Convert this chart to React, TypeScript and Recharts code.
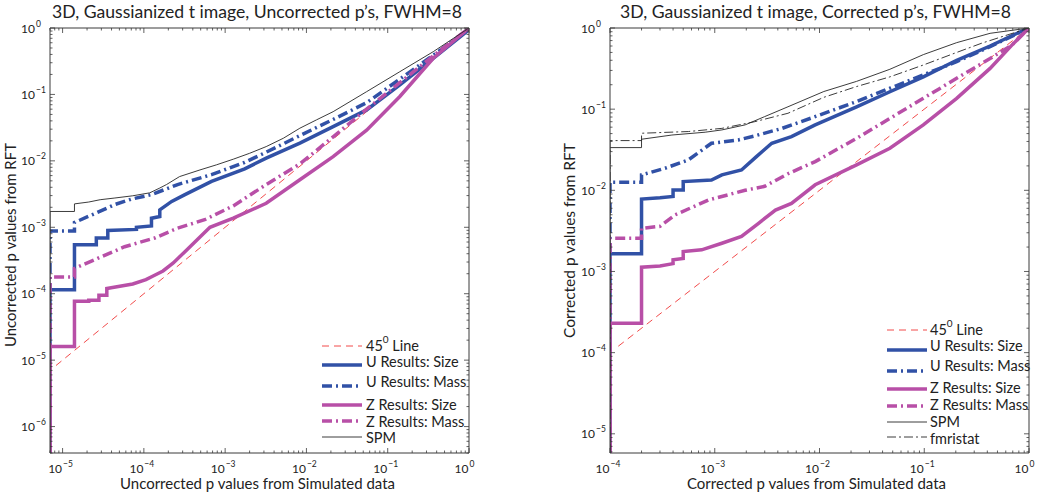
import React from 'react';
import { LineChart, Line, XAxis, YAxis, Legend } from 'recharts';

type Pt = [number, number];

// ---------- left panel: uncorrected p's ----------
const UNC_X_DOMAIN: [number, number] = [7e-6, 1];
const UNC_Y_DOMAIN: [number, number] = [4e-7, 1];

const uncDiag: Pt[] = [[8.3e-6, 8.3e-6], [1, 1]];
const uncUSize: Pt[] = [
  [7e-6, 4e-7], [7e-6, 1.15e-4], [1.4e-5, 1.15e-4], [1.4e-5, 5.45e-4], [2.6e-5, 5.45e-4], [2.6e-5, 6.9e-4],
  [3.6e-5, 6.9e-4], [3.6e-5, 8.95e-4], [8.1e-5, 9.3e-4], [8.1e-5, 1.0e-3], [1.24e-4, 1.05e-3], [1.24e-4, 1.37e-3],
  [1.57e-4, 1.45e-3], [1.57e-4, 1.83e-3], [2.2e-4, 2.45e-3], [3.2e-4, 3.1e-3], [6.8e-4, 4.9e-3], [1.74e-3, 7.6e-3],
  [3.2e-3, 0.011], [8.3e-3, 0.0185], [0.0213, 0.0328], [0.055, 0.0585], [0.141, 0.139], [0.363, 0.35], [0.93, 0.88], [1, 1],
];
const uncUMass: Pt[] = [
  [7e-6, 4e-7], [7e-6, 8.8e-4], [1.4e-5, 8.8e-4], [1.4e-5, 1.18e-3], [2.86e-5, 1.73e-3], [4.4e-5, 2.2e-3],
  [7.0e-5, 2.65e-3], [1.24e-4, 3.1e-3], [2.6e-4, 4.4e-3], [6.8e-4, 6.2e-3], [1.74e-3, 9.5e-3], [3.2e-3, 0.0135],
  [8.3e-3, 0.024], [0.0213, 0.042], [0.055, 0.075], [0.141, 0.17], [0.363, 0.39], [0.93, 0.9], [1, 1],
];
const uncZSize: Pt[] = [
  [7e-6, 4e-7], [7e-6, 1.6e-5], [1.4e-5, 1.6e-5], [1.4e-5, 7.7e-5], [2.1e-5, 7.7e-5], [2.1e-5, 8.0e-5],
  [2.8e-5, 8.0e-5], [2.8e-5, 9.5e-5], [3.5e-5, 9.5e-5], [3.5e-5, 1.2e-4], [7.3e-5, 1.4e-4], [1.06e-4, 1.63e-4],
  [1.3e-4, 1.85e-4], [1.72e-4, 2.2e-4], [2.3e-4, 2.9e-4], [3.2e-4, 4.3e-4], [6.5e-4, 1.0e-3], [1.26e-3, 1.37e-3],
  [3.2e-3, 2.3e-3], [8.3e-3, 5.2e-3], [0.0213, 0.0116], [0.055, 0.029], [0.141, 0.093], [0.363, 0.35], [1, 1],
];
const uncZMass: Pt[] = [
  [7e-6, 4e-7], [7e-6, 1.78e-4], [1.4e-5, 1.78e-4], [1.4e-5, 2.4e-4], [2.7e-5, 3.4e-4], [5.8e-5, 5.1e-4],
  [1.36e-4, 6.9e-4], [2.6e-4, 9.7e-4], [5.6e-4, 1.3e-3], [1.26e-3, 2.1e-3], [3.2e-3, 4.4e-3], [8.3e-3, 9.0e-3],
  [0.0213, 0.023], [0.055, 0.06], [0.141, 0.15], [0.363, 0.38], [1, 1],
];
const uncSPM: Pt[] = [
  [7e-6, 4e-7], [7e-6, 1.73e-3], [1.4e-5, 1.73e-3], [1.4e-5, 2.25e-3], [2.1e-5, 2.4e-3], [2.9e-5, 2.6e-3],
  [4.3e-5, 2.75e-3], [7.3e-5, 2.98e-3], [1.18e-4, 3.3e-3], [1.57e-4, 3.9e-3], [1.9e-4, 4.4e-3], [2.75e-4, 5.8e-3],
  [4.9e-4, 7.3e-3], [7.8e-4, 8.7e-3], [1.26e-3, 0.0106], [2.0e-3, 0.013], [3.2e-3, 0.0164], [5.2e-3, 0.0219],
  [8.3e-3, 0.031], [0.0133, 0.0414], [0.0213, 0.055], [0.055, 0.11], [0.141, 0.22], [0.363, 0.44], [1, 1],
];

// ---------- right panel: corrected p's ----------
const COR_X_DOMAIN: [number, number] = [1e-4, 1];
const COR_Y_DOMAIN: [number, number] = [5.8e-6, 1];

const corDiag: Pt[] = [[1.2e-4, 1.2e-4], [1, 1]];
const corUSize: Pt[] = [
  [1e-4, 5.8e-6], [1e-4, 1.65e-3], [2e-4, 1.65e-3], [2e-4, 7.8e-3], [3e-4, 8.1e-3], [4e-4, 8.4e-3], [4e-4, 0.0101],
  [5e-4, 0.0101], [5e-4, 0.0128], [9.3e-4, 0.0134], [1.17e-3, 0.0155], [1.8e-3, 0.0178], [2.5e-3, 0.026],
  [3.5e-3, 0.038], [5.4e-3, 0.0459], [9.1e-3, 0.064], [0.0226, 0.107], [0.047, 0.164], [0.098, 0.25],
  [0.204, 0.4], [0.425, 0.6], [0.8, 0.88], [1, 1],
];
const corUMass: Pt[] = [
  [1e-4, 5.8e-6], [1e-4, 0.0126], [2e-4, 0.0126], [2e-4, 0.0155], [3.35e-4, 0.0187], [5.6e-4, 0.0237],
  [9.3e-4, 0.038], [1.68e-3, 0.0418], [2.4e-3, 0.0468], [4.4e-3, 0.058], [8.4e-3, 0.078], [0.0226, 0.124],
  [0.047, 0.181], [0.098, 0.264], [0.204, 0.385], [0.425, 0.59], [1, 1],
];
const corZSize: Pt[] = [
  [1e-4, 5.8e-6], [1e-4, 2.3e-4], [2e-4, 2.3e-4], [2e-4, 1.13e-3], [3e-4, 1.17e-3], [4e-4, 1.25e-3], [4e-4, 1.39e-3],
  [5e-4, 1.45e-3], [5e-4, 1.76e-3], [7.5e-4, 1.85e-3], [1.17e-3, 2.23e-3], [1.8e-3, 2.7e-3], [2.6e-3, 3.9e-3],
  [3.8e-3, 5.7e-3], [5.4e-3, 6.9e-3], [9.1e-3, 0.0117], [0.0226, 0.0206], [0.047, 0.033], [0.098, 0.064],
  [0.204, 0.136], [0.425, 0.318], [0.69, 0.62], [1, 1],
];
const corZMass: Pt[] = [
  [1e-4, 5.8e-6], [1e-4, 2.57e-3], [2e-4, 2.57e-3], [2e-4, 3.4e-3], [3e-4, 3.6e-3], [4.2e-4, 5.0e-3],
  [6.3e-4, 6.3e-3], [8.7e-4, 7.6e-3], [1.95e-3, 0.01], [3e-3, 0.0112], [5e-3, 0.016], [9.1e-3, 0.0226],
  [0.0226, 0.0437], [0.047, 0.077], [0.098, 0.136], [0.204, 0.24], [0.425, 0.42], [0.69, 0.62], [1, 1],
];
const corSPM: Pt[] = [
  [1e-4, 5.8e-6], [1e-4, 0.0336], [2e-4, 0.0336], [2e-4, 0.0426], [3.9e-4, 0.048], [8.1e-4, 0.052],
  [1.17e-3, 0.0555], [1.95e-3, 0.064], [3.0e-3, 0.081], [5.0e-3, 0.107], [0.011, 0.165], [0.0226, 0.22],
  [0.047, 0.31], [0.098, 0.47], [0.204, 0.66], [0.425, 0.86], [1, 1],
];
const corFmri: Pt[] = [
  [1e-4, 5.8e-6], [1e-4, 0.041], [2e-4, 0.041], [2e-4, 0.0505], [5.6e-4, 0.053], [1.17e-3, 0.058],
  [2.4e-3, 0.07], [5.0e-3, 0.089], [0.011, 0.14], [0.0226, 0.19], [0.047, 0.25], [0.098, 0.35],
  [0.204, 0.5], [0.354, 0.65], [1, 1],
];

const BLUE = '#3151a6';
const MAGENTA = '#b84fa7';
const RED = '#f24b4b';
const BLACK = '#262626';
const AXIS = '#3a3a3a';
const INK = '#222';
const FONT = 'Lato, "Open Sans", sans-serif';

const STYLES: Record<string, { label: string; color: string; width: number; dash?: string }> = {
  diag: { label: '45', color: RED, width: 1, dash: '7 5' },
  uSize: { label: 'U Results: Size', color: BLUE, width: 3.5 },
  uMass: { label: 'U Results: Mass', color: BLUE, width: 3.5, dash: '10 4 2 4' },
  zSize: { label: 'Z Results: Size', color: MAGENTA, width: 3.5 },
  zMass: { label: 'Z Results: Mass', color: MAGENTA, width: 3.5, dash: '10 4 2 4' },
  spm: { label: 'SPM', color: BLACK, width: 0.9 },
  fmri: { label: 'fmristat', color: BLACK, width: 0.9, dash: '9 3 2 3' },
};

const pts = (a: Pt[]) => a.map(([x, y]) => ({ x, y }));

// decades plus the 2..9 minor ticks inside the domain
const logTicks = (lo: number, hi: number) => {
  const out: number[] = [];
  for (let e = Math.floor(Math.log10(lo)); e <= 0; e++) {
    for (let m = 1; m < 10; m++) {
      const v = m * Math.pow(10, e);
      if (v >= lo * 0.999 && v <= hi * 1.001) out.push(v);
    }
  }
  return out;
};

const isMajor = (v: number) => Math.abs(Math.log10(v) - Math.round(Math.log10(v))) < 1e-6;
const expText = (v: number) => {
  const e = Math.round(Math.log10(v));
  return e < 0 ? '\u2212' + Math.abs(e) : String(e);
};

const PLOT_W = 419;
const PLOT_H = 425;
const PLOT_TOP = 28;
const CHART_W = 525;
const CHART_H = 499;

function XTick(props: any) {
  const { x, y, payload } = props;
  const v = payload.value;
  const major = isMajor(v);
  const len = major ? 5 : 2.5;
  return (
    <g>
      <line x1={x} y1={y} x2={x} y2={y - len} stroke={AXIS} strokeWidth={0.8} />
      <line x1={x} y1={y - PLOT_H} x2={x} y2={y - PLOT_H + len} stroke={AXIS} strokeWidth={0.8} />
      {major && (
        <g fontFamily={FONT} fill={INK}>
          <text x={x - 0.5} y={y + 20} fontSize={12} textAnchor="end">10</text>
          <text x={x + 0.5} y={y + 14} fontSize={8.5} textAnchor="start">{expText(v)}</text>
        </g>
      )}
    </g>
  );
}

function YTick(props: any) {
  const { x, y, payload } = props;
  const v = payload.value;
  const major = isMajor(v);
  const len = major ? 5 : 2.5;
  return (
    <g>
      <line x1={x} y1={y} x2={x + len} y2={y} stroke={AXIS} strokeWidth={0.8} />
      <line x1={x + PLOT_W} y1={y} x2={x + PLOT_W - len} y2={y} stroke={AXIS} strokeWidth={0.8} />
      {major && (
        <g fontFamily={FONT} fill={INK}>
          <text x={x - 15} y={y + 4.5} fontSize={12} textAnchor="end">10</text>
          <text x={x - 14} y={y - 1.5} fontSize={8.5} textAnchor="start">{expText(v)}</text>
        </g>
      )}
    </g>
  );
}

type Row = { key: string; lineY: number; textY: number };

function LegendBox({ x1, x2, tx, rows }: { x1: number; x2: number; tx: number; rows: Row[] }) {
  return (
    <svg width={CHART_W} height={CHART_H} style={{ position: 'absolute', left: 0, top: 0 }}>
      {rows.map((r) => {
        const s = STYLES[r.key];
        return (
          <g key={r.key}>
            <line x1={x1} x2={x2} y1={r.lineY} y2={r.lineY} stroke={s.color} strokeWidth={s.width} strokeDasharray={s.dash} />
            <text x={tx} y={r.textY} dominantBaseline="central" fontFamily={FONT} fontSize={14.5} fill={INK}>
              {r.key === 'diag' ? (
                <>
                  <tspan>45</tspan>
                  <tspan fontSize={10} dy={-6}>0</tspan>
                  <tspan dy={6}> Line</tspan>
                </>
              ) : (
                s.label
              )}
            </text>
          </g>
        );
      })}
    </svg>
  );
}

type Series = { key: string; data: Pt[] };
type Labels = {
  title: string; titleX: number; titleW: number;
  xLabel: string; xLabelX: number; xLabelW: number;
  yLabel: string; yLabelX: number; yLabelY: number; yLabelW: number;
};

function Panel({
  left, xDomain, yDomain, series, legend, labels,
}: {
  left: number; xDomain: [number, number]; yDomain: [number, number];
  series: Series[]; legend: { x1: number; x2: number; tx: number; rows: Row[] }; labels: Labels;
}) {
  const xTicks = logTicks(xDomain[0], xDomain[1]);
  const yTicks = logTicks(yDomain[0], yDomain[1]);
  const axisProps = { type: 'number' as const, scale: 'log' as const, allowDataOverflow: true, interval: 0 as const };
  const L = labels;
  return (
    <div style={{ position: 'relative', width: CHART_W, height: CHART_H }}>
      <LineChart
        width={CHART_W}
        height={CHART_H}
        margin={{
          top: PLOT_TOP - 1,
          left: left - 1,
          right: CHART_W - left - PLOT_W - 1,
          bottom: CHART_H - PLOT_TOP - PLOT_H - 1,
        }}
      >
        <XAxis
          {...axisProps}
          xAxisId={0}
          dataKey="x"
          domain={xDomain}
          ticks={xTicks}
          height={1}
          tickSize={0}
          tickMargin={0}
          axisLine={{ stroke: AXIS, strokeWidth: 1 }}
          tickLine={false}
          tick={<XTick />}
        />
        <XAxis
          {...axisProps}
          xAxisId="top"
          orientation="top"
          domain={xDomain}
          ticks={xTicks}
          height={1}
          axisLine={{ stroke: AXIS, strokeWidth: 1 }}
          tickLine={false}
          tick={false}
        />
        <YAxis
          {...axisProps}
          yAxisId={0}
          dataKey="y"
          domain={yDomain}
          ticks={yTicks}
          width={1}
          tickSize={0}
          tickMargin={0}
          axisLine={{ stroke: AXIS, strokeWidth: 1 }}
          tickLine={false}
          tick={<YTick />}
        />
        <YAxis
          {...axisProps}
          yAxisId="right"
          orientation="right"
          domain={yDomain}
          ticks={yTicks}
          width={1}
          axisLine={{ stroke: AXIS, strokeWidth: 1 }}
          tickLine={false}
          tick={false}
        />
        {series.map((s) => {
          const st = STYLES[s.key];
          return (
            <Line
              key={s.key}
              xAxisId={0}
              yAxisId={0}
              data={pts(s.data)}
              dataKey="y"
              name={st.label}
              type="linear"
              stroke={st.color}
              strokeWidth={st.width}
              strokeDasharray={st.dash}
              dot={false}
              activeDot={false}
              isAnimationActive={false}
            />
          );
        })}
        <Legend
          layout="vertical"
          align="center"
          verticalAlign="middle"
          wrapperStyle={{ left: 0, top: 0, width: CHART_W, height: CHART_H, pointerEvents: 'none' }}
          content={() => <LegendBox {...legend} />}
        />
      </LineChart>
      <svg
        width={CHART_W}
        height={CHART_H}
        style={{ position: 'absolute', left: 0, top: 0, pointerEvents: 'none' }}
        fontFamily={FONT}
        fill={INK}
      >
        <text x={L.titleX} y={17.5} fontSize={17.5} textAnchor="middle" textLength={L.titleW} lengthAdjust="spacingAndGlyphs">
          {L.title}
        </text>
        <text x={L.xLabelX} y={489} fontSize={15} textAnchor="middle" textLength={L.xLabelW} lengthAdjust="spacingAndGlyphs">
          {L.xLabel}
        </text>
        <text
          x={L.yLabelX}
          y={L.yLabelY}
          fontSize={15}
          textAnchor="middle"
          dominantBaseline="central"
          textLength={L.yLabelW}
          lengthAdjust="spacingAndGlyphs"
          transform={`rotate(-90 ${L.yLabelX} ${L.yLabelY})`}
        >
          {L.yLabel}
        </text>
      </svg>
    </div>
  );
}

export default function App() {
  return (
    <div style={{ position: 'absolute', left: 0, top: 0, width: 1050, height: 499, background: '#fff', display: 'flex' }}>
      <Panel
        left={50}
        xDomain={UNC_X_DOMAIN}
        yDomain={UNC_Y_DOMAIN}
        labels={{
          title: '3D, Gaussianized t image, Uncorrected p’s, FWHM=8', titleX: 257, titleW: 410,
          xLabel: 'Uncorrected p values from Simulated data', xLabelX: 257.5, xLabelW: 275,
          yLabel: 'Uncorrected p values from RFT', yLabelX: 9.5, yLabelY: 245, yLabelW: 204,
        }}
        series={[
          { key: 'diag', data: uncDiag },
          { key: 'uSize', data: uncUSize },
          { key: 'uMass', data: uncUMass },
          { key: 'zSize', data: uncZSize },
          { key: 'zMass', data: uncZMass },
          { key: 'spm', data: uncSPM },
        ]}
        legend={{
          x1: 322, x2: 362, tx: 366,
          rows: [
            { key: 'diag', lineY: 346, textY: 345 },
            { key: 'uSize', lineY: 365, textY: 361 },
            { key: 'uMass', lineY: 386, textY: 381 },
            { key: 'zSize', lineY: 405, textY: 404 },
            { key: 'zMass', lineY: 421, textY: 421 },
            { key: 'spm', lineY: 437, textY: 437.5 },
          ],
        }}
      />
      <Panel
        left={85}
        xDomain={COR_X_DOMAIN}
        yDomain={COR_Y_DOMAIN}
        labels={{
          title: '3D, Gaussianized t image, Corrected p’s, FWHM=8', titleX: 290.5, titleW: 391,
          xLabel: 'Corrected p values from Simulated data', xLabelX: 291.5, xLabelW: 259,
          yLabel: 'Corrected p values from RFT', yLabelX: 44, yLabelY: 240.5, yLabelW: 195,
        }}
        series={[
          { key: 'diag', data: corDiag },
          { key: 'uSize', data: corUSize },
          { key: 'uMass', data: corUMass },
          { key: 'zSize', data: corZSize },
          { key: 'zMass', data: corZMass },
          { key: 'spm', data: corSPM },
          { key: 'fmri', data: corFmri },
        ]}
        legend={{
          x1: 362, x2: 402, tx: 405,
          rows: [
            { key: 'diag', lineY: 330, textY: 329 },
            { key: 'uSize', lineY: 350, textY: 345 },
            { key: 'uMass', lineY: 371, textY: 365 },
            { key: 'zSize', lineY: 389, textY: 387.5 },
            { key: 'zMass', lineY: 406, textY: 404.5 },
            { key: 'spm', lineY: 422, textY: 421 },
            { key: 'fmri', lineY: 437, textY: 438 },
          ],
        }}
      />
    </div>
  );
}
